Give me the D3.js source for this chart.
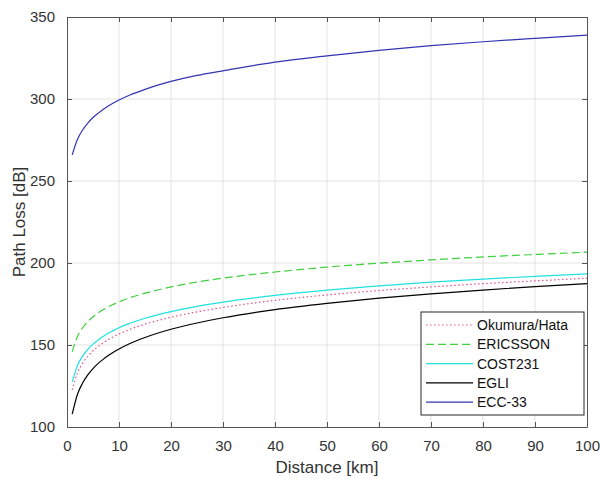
<!DOCTYPE html>
<head>
  <meta charset="utf-8">
  <script src="https://d3js.org/d3.v7.min.js"></script>
  <style>
    body { margin: 0; background: #fff; }
    text { font-family: "Liberation Sans", Arial, sans-serif; fill: #333; }
    .tick text { font-size: 15px; }
    .grid line { stroke: #e3e3e3; stroke-width: 1; }
    .label { font-size: 17px; }
    .legend text { font-size: 14px; fill: #111; }
  </style>
</head>
<body>
<script>
  // distance [km]
  var distance = [1, 2, 3, 4, 5, 6, 7, 8, 9, 10, 12, 15, 20, 25, 30, 40, 50, 60, 70, 80, 90, 100];

  var okumuraHata = [122.6, 132.9, 138.8, 143.1, 146.4, 149.1, 151.4, 153.4, 155.1, 156.7, 159.4, 162.7,
                     166.9, 170.2, 172.9, 177.2, 180.5, 183.2, 185.4, 187.4, 189.1, 190.7];
  var ericsson = [146.0, 155.1, 160.5, 164.2, 167.2, 169.6, 171.6, 173.4, 174.9, 176.3, 178.7, 181.6,
                  185.4, 188.4, 190.8, 194.5, 197.5, 199.9, 201.9, 203.7, 205.2, 206.6];
  var cost231 = [127.5, 137.4, 143.2, 147.3, 150.5, 153.1, 155.3, 157.3, 158.9, 160.5, 163.1, 166.3,
                 170.4, 173.6, 176.2, 180.3, 183.5, 186.1, 188.3, 190.2, 191.9, 193.4];
  var egli = [107.8, 119.8, 126.8, 131.8, 135.6, 138.8, 141.4, 143.7, 145.8, 147.6, 150.8, 154.6,
              159.6, 163.4, 166.6, 171.6, 175.4, 178.6, 181.2, 183.5, 185.6, 187.4];
  var ecc33 = [265.9, 275.3, 281.1, 285.3, 288.7, 291.4, 293.8, 295.9, 297.7, 299.4, 302.3, 305.9,
               310.7, 314.4, 317.2, 322.5, 326.3, 329.7, 332.5, 334.9, 337.0, 339.0];

  var xTicks = [0, 10, 20, 30, 40, 50, 60, 70, 80, 90, 100];
  var yTicks = [100, 150, 200, 250, 300, 350];

  var series = [
    { name: "Okumura/Hata", values: okumuraHata, color: "#e0528c", dash: "1.5,2.5" },
    { name: "ERICSSON", values: ericsson, color: "#3fcf3f", dash: "8,4" },
    { name: "COST231", values: cost231, color: "#22e0e0", dash: null },
    { name: "EGLI", values: egli, color: "#000000", dash: null },
    { name: "ECC-33", values: ecc33, color: "#3434b4", dash: null }
  ];

  var margin = { top: 17, right: 17, bottom: 52, left: 67 };
  var width = 604 - margin.left - margin.right;
  var height = 479 - margin.top - margin.bottom;

  var svg = d3.select("body").append("svg")
      .attr("width", 604)
      .attr("height", 479)
    .append("g")
      .attr("transform", "translate(" + margin.left + "," + margin.top + ")");

  var x = d3.scaleLinear().domain([0, 100]).range([0, width]);
  var y = d3.scaleLinear().domain([100, 350]).range([height, 0]);

  // grid
  svg.append("g").attr("class", "grid")
    .selectAll("line").data(xTicks.slice(1, -1)).enter().append("line")
      .attr("x1", function(d) { return x(d); }).attr("x2", function(d) { return x(d); })
      .attr("y1", 0).attr("y2", height);
  svg.append("g").attr("class", "grid")
    .selectAll("line").data(yTicks.slice(1, -1)).enter().append("line")
      .attr("y1", function(d) { return y(d); }).attr("y2", function(d) { return y(d); })
      .attr("x1", 0).attr("x2", width);

  // axes, ticks pointing inward on all four sides
  function styleAxis(g) {
    g.select(".domain").attr("stroke", "#555");
    g.selectAll(".tick line").attr("stroke", "#555");
  }

  svg.append("g")
      .attr("transform", "translate(0," + height + ")")
      .call(d3.axisBottom(x).tickValues(xTicks).tickSizeInner(-5).tickSizeOuter(0).tickPadding(13))
      .call(styleAxis);
  svg.append("g")
      .call(d3.axisLeft(y).tickValues(yTicks).tickSizeInner(-5).tickSizeOuter(0).tickPadding(12))
      .call(styleAxis);
  svg.append("g")
      .call(d3.axisTop(x).tickValues(xTicks).tickSizeInner(-5).tickSizeOuter(0).tickFormat(""))
      .call(styleAxis);
  svg.append("g")
      .attr("transform", "translate(" + width + ",0)")
      .call(d3.axisRight(y).tickValues(yTicks).tickSizeInner(-5).tickSizeOuter(0).tickFormat(""))
      .call(styleAxis);

  svg.selectAll(".tick text").attr("fill", "#333").style("font-size", "15px");

  // lines
  var line = d3.line()
      .x(function(d) { return x(d[0]); })
      .y(function(d) { return y(d[1]); })
      .curve(d3.curveMonotoneX);

  series.forEach(function(s) {
    svg.append("path")
        .datum(distance.map(function(d, i) { return [d, s.values[i]]; }))
        .attr("fill", "none")
        .attr("stroke", s.color)
        .attr("stroke-width", 1.2)
        .attr("stroke-dasharray", s.dash)
        .attr("d", line);
  });

  // labels
  svg.append("text").attr("class", "label")
      .attr("x", width / 2).attr("y", height + 46)
      .attr("text-anchor", "middle")
      .text("Distance [km]");
  svg.append("text").attr("class", "label")
      .attr("transform", "translate(-42," + (height / 2) + ") rotate(-90)")
      .attr("text-anchor", "middle")
      .text("Path Loss [dB]");

  // legend
  var lg = svg.append("g").attr("class", "legend")
      .attr("transform", "translate(" + (421 - margin.left) + "," + (312 - margin.top) + ")");
  lg.append("rect")
      .attr("width", 163).attr("height", 103)
      .attr("fill", "#fff").attr("stroke", "#262626").attr("stroke-width", 1);
  series.forEach(function(s, i) {
    var ly = 13 + i * 19.3;
    lg.append("line")
        .attr("x1", 5).attr("x2", 52).attr("y1", ly).attr("y2", ly)
        .attr("stroke", s.color).attr("stroke-width", 1.2)
        .attr("stroke-dasharray", s.dash);
    lg.append("text")
        .attr("x", 56).attr("y", ly).attr("dy", "0.35em")
        .text(s.name);
  });
</script>
</body>
